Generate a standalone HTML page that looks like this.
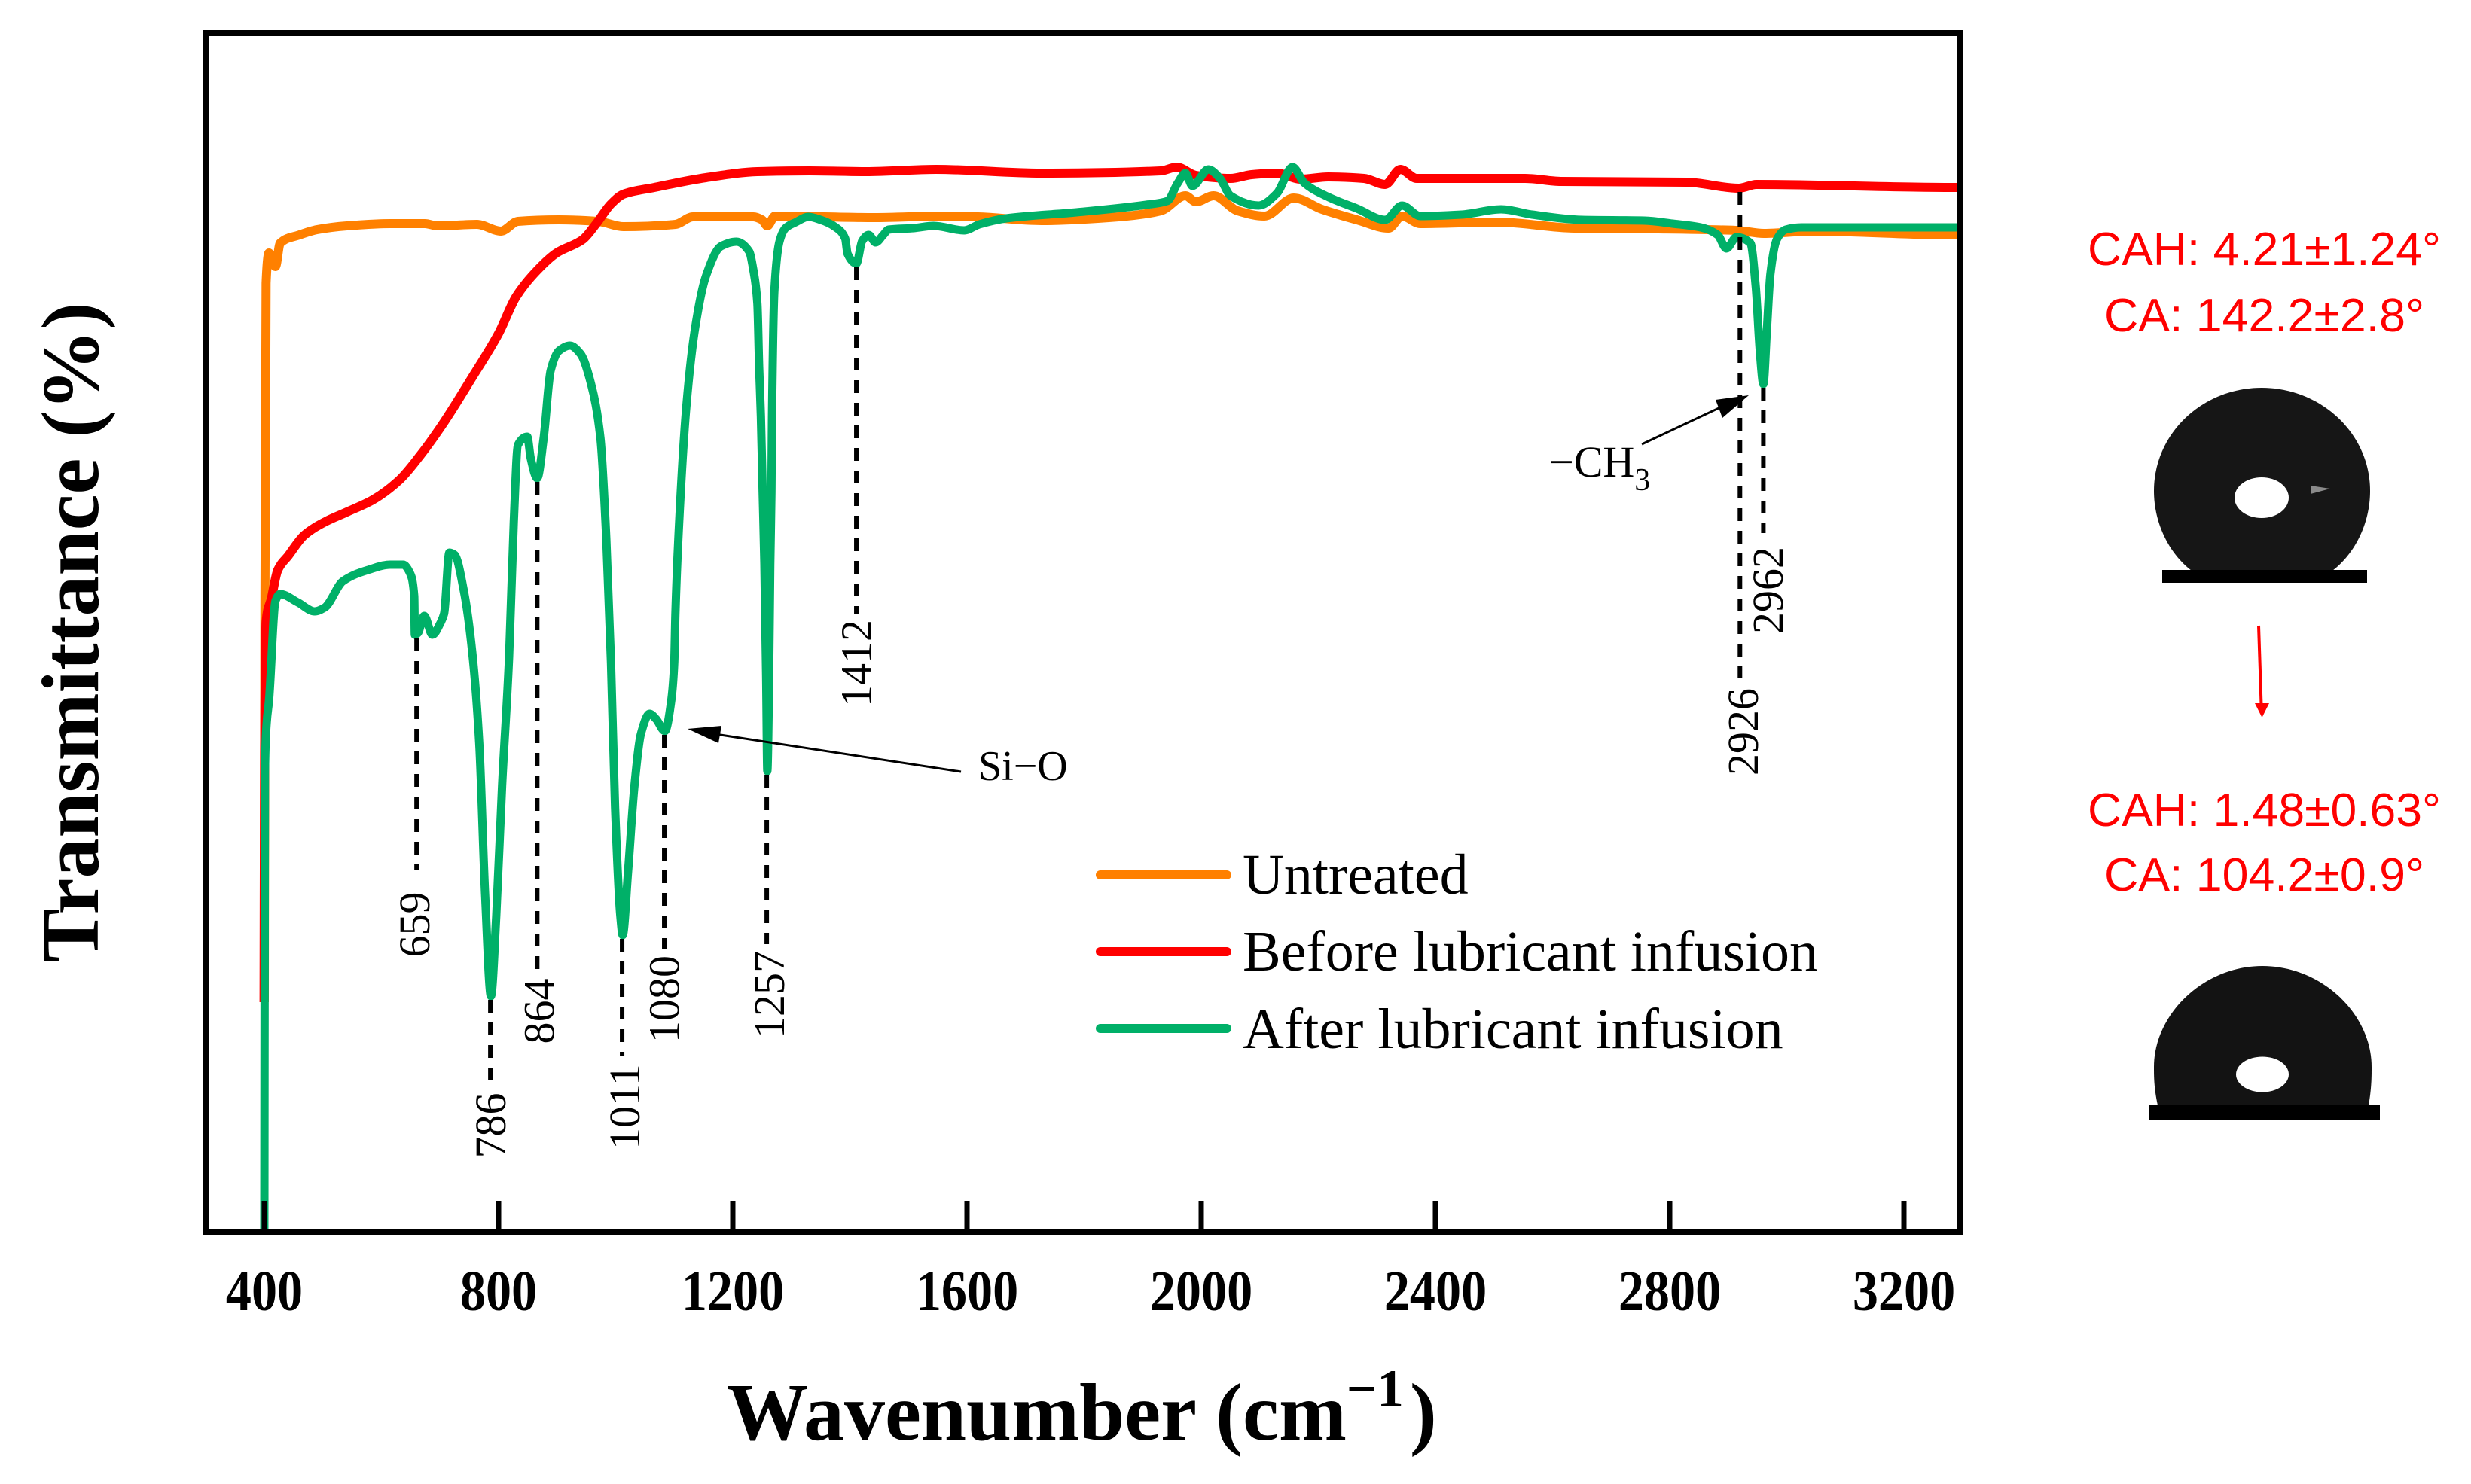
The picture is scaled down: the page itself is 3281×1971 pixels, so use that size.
<!DOCTYPE html>
<html lang="en">
<head>
<meta charset="utf-8">
<title>FTIR transmittance spectra</title>
<style>
html,body{margin:0;padding:0;background:#fff;}
svg{display:block;}
text{font-family:"Liberation Serif",serif;fill:#000;}
.sans{font-family:"Liberation Sans",sans-serif;fill:#f00;}
</style>
</head>
<body>
<svg id="chart" xmlns="http://www.w3.org/2000/svg" width="3281" height="1971" viewBox="0 0 3281 1971">
  <defs>
    <clipPath id="plot-clip"><rect x="274" y="44" width="2328" height="1592"/></clipPath>
  </defs>
  <rect x="0" y="0" width="3281" height="1971" fill="#fff"/>
  <g id="series-layer" clip-path="url(#plot-clip)"></g>
  <g id="peak-layer"></g>
  <g id="tick-layer"></g>
  <rect x="274" y="44" width="2328" height="1592" fill="none" stroke="#000" stroke-width="8"/>

  <text transform="translate(130,840) rotate(-90)" text-anchor="middle" font-size="108" font-weight="bold">Transmittance (%)</text>
  <text x="965" y="1912" font-size="108" font-weight="bold">Wavenumber (cm<tspan font-size="71" dy="-44">−1</tspan><tspan dx="8" dy="44">)</tspan></text>

  <g>
    <line x1="1461" y1="1162" x2="1629" y2="1162" stroke="#ff8000" stroke-width="12" stroke-linecap="round"/>
    <text x="1650" y="1187" font-size="76">Untreated</text>
    <line x1="1461" y1="1264" x2="1629" y2="1264" stroke="#ff0000" stroke-width="12" stroke-linecap="round"/>
    <text x="1650" y="1289" font-size="76">Before lubricant infusion</text>
    <line x1="1461" y1="1366" x2="1629" y2="1366" stroke="#00b068" stroke-width="12" stroke-linecap="round"/>
    <text x="1650" y="1392" font-size="76">After lubricant infusion</text>
  </g>

  <g>
    <line x1="1276" y1="1025" x2="950" y2="975" stroke="#000" stroke-width="3"/>
    <polygon points="913,968 958,964 954,987" fill="#000"/>
    <text x="1299" y="1036" font-size="56">Si−O</text>
  </g>
  <g>
    <line x1="2180" y1="590" x2="2295" y2="536" stroke="#000" stroke-width="3"/>
    <polygon points="2322,525 2278,531 2287,555" fill="#000"/>
    <text x="2057" y="633" font-size="58">−CH<tspan font-size="42" dy="18">3</tspan></text>
  </g>

  <g>
    <text class="sans" x="2772" y="352" font-size="62" textLength="469" lengthAdjust="spacingAndGlyphs">CAH: 4.21±1.24°</text>
    <text class="sans" x="2794" y="440" font-size="62" textLength="425" lengthAdjust="spacingAndGlyphs">CA: 142.2±2.8°</text>
    <g>
      <path d="M2910 758C2880 735 2860 695 2860 652C2860 575 2925 515 3003 515C3081 515 3147 575 3147 652C3147 695 3127 735 3097 758Z" fill="#161616"/>
      <ellipse cx="3003" cy="661" rx="36" ry="27" fill="#fff"/>
      <polygon points="3068,645 3094,649 3068,656" fill="#8a8a8a"/>
      <rect x="2871" y="757" width="272" height="17" fill="#000"/>
    </g>
    <line x1="2999" y1="831" x2="3002.5" y2="936" stroke="#f00" stroke-width="4"/>
    <polygon points="3003.5,953 2994,934 3013,934" fill="#f00"/>
    <text class="sans" x="2772" y="1097" font-size="62" textLength="469" lengthAdjust="spacingAndGlyphs">CAH: 1.48±0.63°</text>
    <text class="sans" x="2794" y="1183" font-size="62" textLength="425" lengthAdjust="spacingAndGlyphs">CA: 104.2±0.9°</text>
    <g>
      <path d="M2865 1468C2860 1445 2860 1430 2860 1417C2860 1347 2926 1283 3004 1283C3083 1283 3149 1347 3149 1417C3149 1430 3149 1445 3145 1468Z" fill="#131313"/>
      <ellipse cx="3004" cy="1427" rx="35" ry="23.5" fill="#fff"/>
      <rect x="2854" y="1467" width="306" height="21" fill="#000"/>
    </g>
  </g>
</svg>

<script>
// ---- Data (wavenumber in cm-1, transmittance in arbitrary % units) ----
const xTickValues = [400, 800, 1200, 1600, 2000, 2400, 2800, 3200];

const untreatedWave = [400,401,403,408,419,427,460,490,541,615,674,696,763,804,833,903,970,1013,1102,1132,1235,1250,1259,1272,1441,1559,1619,1727,1859,1931,1973,1991,2021,2062,2108,2158,2206,2266,2320,2343,2374,2505,2637,2781,2913,2961,3044,3284,3296];
const untreatedT = [30.5,83.6,126.0,130.0,128.2,131.3,132.4,133.1,133.6,133.9,133.9,133.6,133.8,132.9,134.2,134.4,134.2,133.5,133.8,134.8,134.8,134.4,133.6,134.9,134.7,134.9,134.8,134.3,134.8,135.6,137.6,136.8,137.6,135.6,134.9,137.3,135.8,134.4,133.3,134.9,133.9,134.1,133.3,133.2,133.0,132.6,132.9,132.4,132.4];

const beforeWave = [399.5,400.5,403,412,423,441,468,504,541,585,630,667,704,755,800,830,866,899,944,966,992,1013,1066,1154,1242,1331,1428,1547,1727,1931,1958,1991,2050,2086,2129,2170,2217,2278,2314,2340,2368,2553,2614,2828,2918,2948,3284,3296];
const beforeT = [30.5,63.6,81.0,84.1,87.9,89.8,92.5,94.3,95.6,97.2,99.8,103.2,107.2,113.5,119.3,124.2,127.7,130.0,131.8,133.8,136.5,137.8,138.7,140.0,140.8,140.9,140.8,141.1,140.6,140.9,141.4,140.3,139.9,140.4,140.6,139.8,140.1,139.9,139.1,141.1,139.9,139.9,139.5,139.4,138.6,139.1,138.7,138.7];

const afterWave = [400,401,404,408,419,427,457,486,503,534,577,615,637,648,656,657,662,673,687,701,707,716,725,741,755,767,777,787,796,806,818,826,833,849,855,866,877,889,903,922,940,958,974,984,992,999,1008,1012,1021,1032,1043,1058,1069,1084,1095,1100,1102,1107,1121,1136,1154,1180,1206,1228,1235,1242,1245,1248,1251,1254,1257,1259,1262,1264,1266,1267,1271,1280,1290,1308,1329,1350,1376,1392,1396,1411,1421,1432,1444,1457,1466,1509,1543,1595,1621,1667,1787,1906,1942,1960,1973,1985,2012,2032,2050,2098,2129,2156,2176,2218,2266,2314,2343,2374,2445,2512,2565,2650,2757,2805,2853,2882,2897,2914,2938,2947,2954,2960,2966,2972,2983,2998,3025,3290,3296];
const afterT = [0,60.9,67.6,70.6,83.8,84.7,83.6,82.4,82.9,86.4,87.9,88.6,88.6,87.6,84.4,79.3,79.5,81.8,79.3,80.9,82.1,90.2,89.9,85.0,77.0,64.9,44.8,31.3,41.9,59.2,76.4,94.3,104.5,105.6,102.7,100.1,105.4,114.4,117.0,117.7,116.6,112.6,105.4,92.0,75.6,56.3,41.9,39.4,47.7,59.2,66.1,68.8,68.1,66.5,70.6,75.6,82.1,92.0,109.9,120.2,126.9,130.9,131.5,130.2,127.8,123.3,114.9,108.3,98.3,88.6,73.6,61.2,73.6,88.6,98.3,108.3,124.9,131.6,133.3,134.1,134.8,134.4,133.4,131.9,129.9,128.6,131.6,132.4,131.4,132.4,133.1,133.3,133.6,133.0,133.8,134.6,135.4,136.4,136.9,139.3,140.6,138.9,141.1,139.9,137.6,136.3,137.9,141.4,139.3,137.4,135.9,134.4,136.3,134.9,135.1,135.8,135.1,134.4,134.3,133.9,133.4,132.4,130.6,132.1,131.3,125.5,116.9,112.6,119.8,127.2,131.8,133.1,133.4,133.4,133.4];

const peakLabels = ["659","786","864","1011","1080","1257","1412","2926","2962"];
const peakWave = [660,786,866,1011,1083,1258,1411,2920,2960];
const peakTopT = [78.8,30.8,99.6,38.9,66.0,60.7,128.1,138.1,112.1];
const peakBottomT = [48.0,20.1,34.2,23.3,37.6,38.2,82.1,73.6,92.8];
const peakLabelWave = [656,786,869,1015,1082,1262,1410,2925,2967];
const peakLabelT = [40.8,14.1,29.3,16.6,30.9,31.5,75.5,66.4,85.2];

// ---- Axis functions ----
const X_DOMAIN = [300, 3300], X_RANGE = [273.25, 2605.75];
const Y_DOMAIN = [0, 159.2], Y_RANGE = [1636, 44];
function xScale(w){ return X_RANGE[0] + (w - X_DOMAIN[0]) / (X_DOMAIN[1] - X_DOMAIN[0]) * (X_RANGE[1] - X_RANGE[0]); }
function yScale(t){ return Y_RANGE[0] + (t - Y_DOMAIN[0]) / (Y_DOMAIN[1] - Y_DOMAIN[0]) * (Y_RANGE[1] - Y_RANGE[0]); }

const NS = 'http://www.w3.org/2000/svg';
function make(tag, parent){ const el = document.createElementNS(NS, tag); parent.appendChild(el); return el; }

// Monotone cubic path through the points so troughs do not overshoot
function linePath(wave, values){
  const xs = wave.map(xScale), ys = values.map(yScale), n = xs.length;
  const sl = [], m = new Array(n).fill(0);
  for (let i = 0; i < n - 1; i++) sl.push((ys[i+1] - ys[i]) / (xs[i+1] - xs[i]));
  m[0] = sl[0]; m[n-1] = sl[n-2];
  for (let i = 1; i < n - 1; i++) {
    if (sl[i-1] * sl[i] <= 0) m[i] = 0;
    else {
      const h0 = xs[i] - xs[i-1], h1 = xs[i+1] - xs[i];
      m[i] = 3 * (h0 + h1) / ((2*h1 + h0) / sl[i-1] + (h1 + 2*h0) / sl[i]);
    }
  }
  let d = 'M' + xs[0].toFixed(2) + ' ' + ys[0].toFixed(2);
  for (let i = 0; i < n - 1; i++) {
    const h = (xs[i+1] - xs[i]) / 3;
    d += 'C' + (xs[i] + h).toFixed(2) + ' ' + (ys[i] + m[i]*h).toFixed(2) + ' ' +
         (xs[i+1] - h).toFixed(2) + ' ' + (ys[i+1] - m[i+1]*h).toFixed(2) + ' ' +
         xs[i+1].toFixed(2) + ' ' + ys[i+1].toFixed(2);
  }
  return d;
}

// ---- Series ----
const seriesLayer = document.getElementById('series-layer');

const untreatedLine = make('path', seriesLayer);


untreatedLine.setAttribute('d', linePath(untreatedWave, untreatedT));
untreatedLine.setAttribute('fill', 'none');
untreatedLine.setAttribute('stroke', '#ff8000');
untreatedLine.setAttribute('stroke-width', '12');
untreatedLine.setAttribute('stroke-linejoin', 'round');

const beforeLine = make('path', seriesLayer);


beforeLine.setAttribute('d', linePath(beforeWave, beforeT));
beforeLine.setAttribute('fill', 'none');
beforeLine.setAttribute('stroke', '#ff0000');
beforeLine.setAttribute('stroke-width', '12');
beforeLine.setAttribute('stroke-linejoin', 'round');

const afterLine = make('path', seriesLayer);


afterLine.setAttribute('d', linePath(afterWave, afterT));
afterLine.setAttribute('fill', 'none');
afterLine.setAttribute('stroke', '#00b068');
afterLine.setAttribute('stroke-width', '11');
afterLine.setAttribute('stroke-linejoin', 'round');

// ---- Peak markers ----
const peakLayer = document.getElementById('peak-layer');
peakLabels.forEach(function(label, i){
  const dash = make('line', peakLayer);
  
  
  dash.setAttribute('x1', xScale(peakWave[i]));
  dash.setAttribute('x2', xScale(peakWave[i]));
  dash.setAttribute('y1', yScale(peakTopT[i]));
  dash.setAttribute('y2', yScale(peakBottomT[i]));
  dash.setAttribute('stroke', '#000');
  dash.setAttribute('stroke-width', '6');
  dash.setAttribute('stroke-dasharray', '17 13');

  const txt = make('text', peakLayer);
  
  
  const px = xScale(peakLabelWave[i]) + 20;
  const py = yScale(peakLabelT[i]);
  txt.setAttribute('transform', 'translate(' + px + ',' + py + ') rotate(-90)');
  txt.setAttribute('text-anchor', 'middle');
  txt.setAttribute('font-size', '58');
  txt.textContent = label;
});

// ---- X ticks ----
const tickLayer = document.getElementById('tick-layer');
xTickValues.forEach(function(v){
  const tick = make('line', tickLayer);
  
  
  tick.setAttribute('x1', xScale(v));
  tick.setAttribute('x2', xScale(v));
  tick.setAttribute('y1', Y_RANGE[0]);
  tick.setAttribute('y2', Y_RANGE[0] - 41);
  tick.setAttribute('stroke', '#000');
  tick.setAttribute('stroke-width', '7');

  const lab = make('text', tickLayer);
  
  
  lab.setAttribute('transform', 'translate(' + xScale(v) + ',' + (Y_RANGE[0] + 104) + ') scale(0.96,1.07)');
  lab.setAttribute('text-anchor', 'middle');
  lab.setAttribute('font-size', '71');
  lab.setAttribute('font-weight', 'bold');
  lab.textContent = v;
});
</script>
</body>
</html>
